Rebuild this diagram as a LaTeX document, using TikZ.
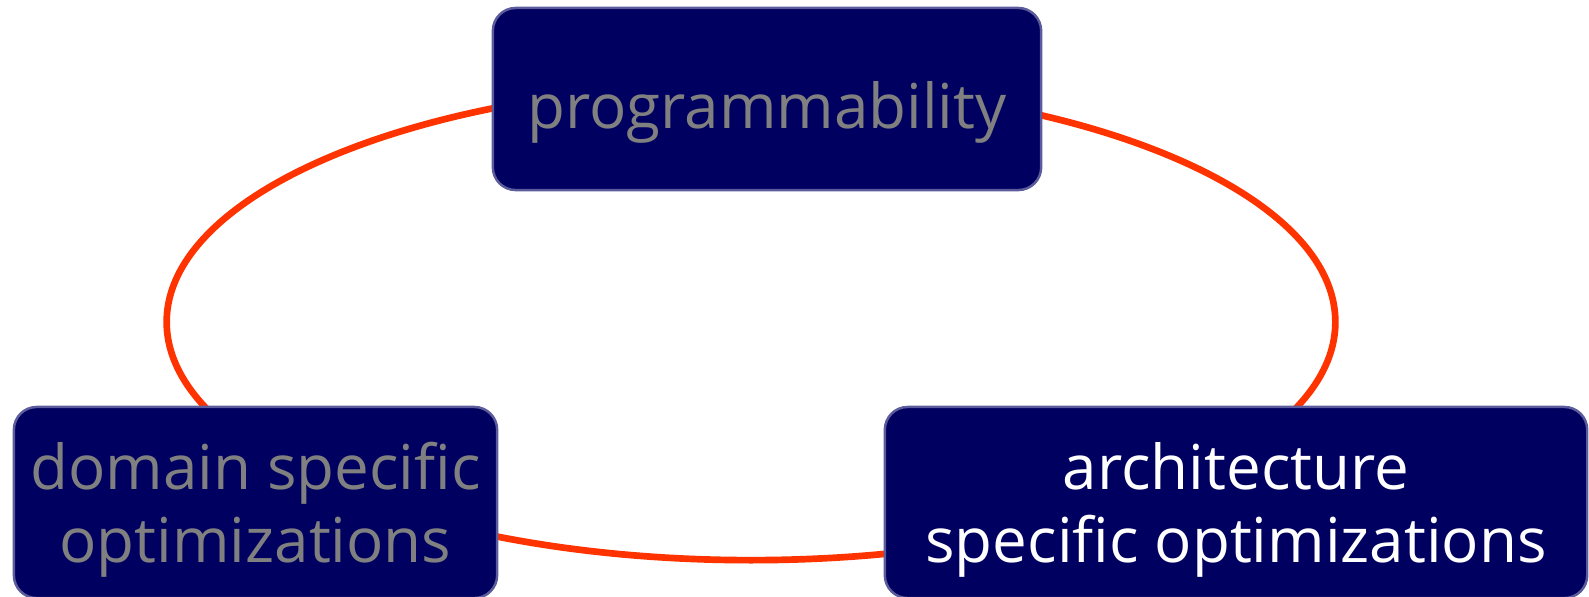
\documentclass[tikz,border=0pt]{standalone}
\usepackage{fontspec}
\setmainfont{Open Sans}
\usetikzlibrary{positioning}
\definecolor{BoxNavy}{HTML}{000060}
\definecolor{BoxEdge}{HTML}{5C5C9C}
\definecolor{RingRed}{HTML}{FF3300}
\definecolor{LabelGray}{HTML}{808080}

\begin{document}
\begin{tikzpicture}[x=0.01cm,y=-0.01cm,
    every node/.style={font=\fontsize{17.6}{20.8}\selectfont},
    goalbox/.style={draw=BoxEdge,fill=BoxNavy,line width=0.7pt,rounded corners=6.5pt,
      align=center,inner sep=0pt}]
    \useasboundingbox (0,0) rectangle (1589,596);
    \draw[RingRed,line width=1.9pt] (751,322) ellipse [x radius=5.84cm,y radius=2.38cm];

    \node[goalbox,minimum width=5.48cm,minimum height=1.82cm,text=LabelGray,
          text height=17pt,text depth=0pt] (prog) at (767,99)
      {programmability};
    \node[goalbox,minimum width=4.83cm,minimum height=1.91cm,text=LabelGray,
          text depth=0pt] (domain) at (255.5,502.5)
      {domain specific\\optimizations};
    \node[goalbox,minimum width=7.02cm,minimum height=1.91cm,text=white,
          text depth=0pt] (arch) at (1236,502.5)
      {architecture\\specific optimizations};
  \end{tikzpicture}
\end{document}
